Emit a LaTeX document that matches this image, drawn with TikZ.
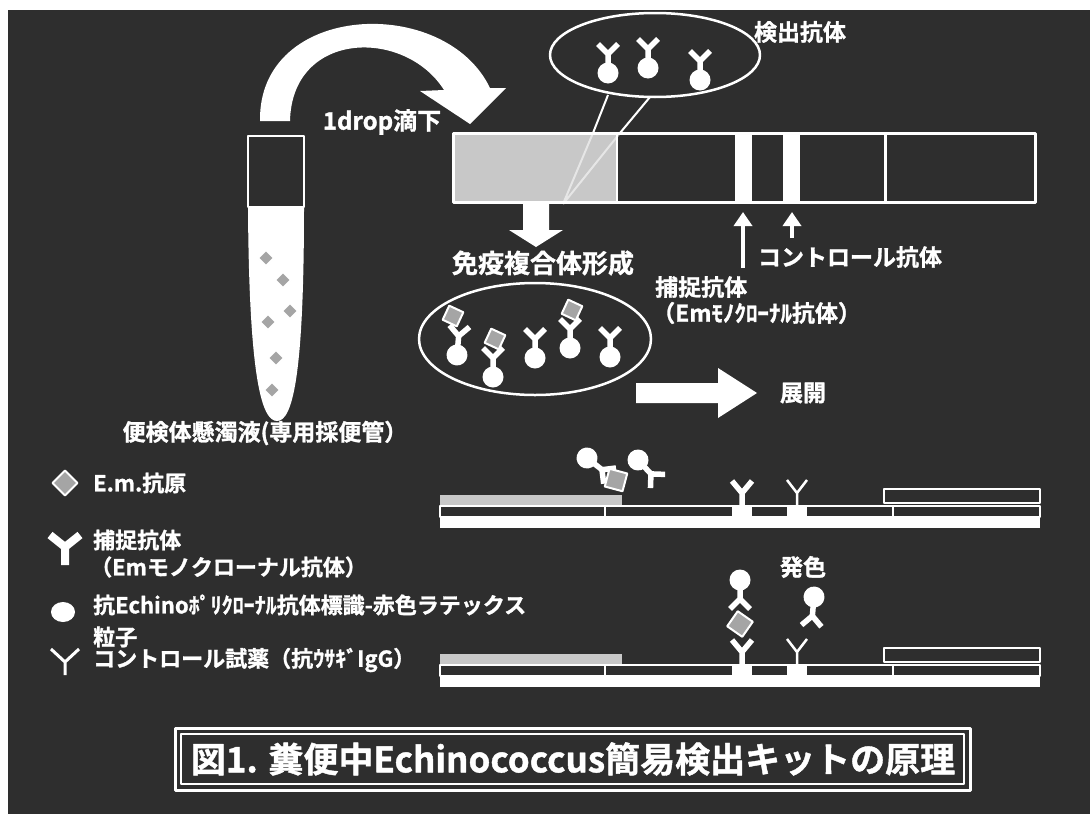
\documentclass[tikz,border=0pt]{standalone}
\usepackage{fontspec}
\setmainfont{Noto Sans CJK JP}[BoldFont={Noto Sans CJK JP Bold}, BoldFeatures={FakeBold=1.2}]
\usetikzlibrary{arrows.meta}

\definecolor{board}{RGB}{46,46,46}
\definecolor{padgray}{RGB}{200,200,200}
\definecolor{agfill}{RGB}{165,165,165}

\tikzset{
  lbl/.style={text=white, inner sep=0pt, font=\bfseries\fontsize{23}{24}\selectfont},
  leg/.style={lbl, anchor=west, font=\bfseries\fontsize{22}{24}\selectfont},
  ab/.style={white, line width=5.5},
  thinab/.style={white, line width=2.5},
  antigen/.style={fill=agfill, draw=white, line width=2},
  layer/.style={fill=board, draw=white, line width=1.5},
  uparrow/.style={white, line width=3.5, -{Triangle[width=18pt,length=14pt]}},
}

% capture antibody (bold Y), junction at #1,#2
\newcommand{\capab}[3]{\draw[ab, shift={(#1,#2)}, rotate=#3] (0,13) -- (0,0) (-10,-12) -- (0,0) -- (10,-12);}
% control reagent (thin Y)
\newcommand{\ctlab}[3]{\draw[thinab, shift={(#1,#2)}, rotate=#3] (0,13) -- (0,0) (-10,-13) -- (0,0) -- (10,-13);}
% latex-labelled antibody, particle centre at #1,#2
\newcommand{\labab}[3]{\begin{scope}[shift={(#1,#2)}, rotate=#3]
  \fill[white] (0,0) circle (10.5);
  \draw[ab] (0,0) -- (0,-19) (-10,-29) -- (0,-19) -- (10,-29);
\end{scope}}
% antigen: centre, half diagonal, rotation
\newcommand{\antigen}[4]{\filldraw[antigen, shift={(#1,#2)}, rotate=#4] (-#3,0) -- (0,-#3) -- (#3,0) -- (0,#3) -- cycle;}

\begin{document}
\begin{tikzpicture}[x=1pt, y=-1pt, line join=round]
\useasboundingbox (0,0) rectangle (1090,814);
\fill[white] (0,0) rectangle (1090,814);
\fill[board] (8,10) rectangle (1090,814);

% curved arrow: tube -> strip
\fill[white]
  (260,121) .. controls (258,2) and (445,-6) .. (490,88) -- (506,88) -- (470,124) -- (420,91) -- (444,90)
  .. controls (405,28) and (292,30) .. (290,121) -- cycle;
\node[lbl, font=\bfseries\fontsize{24}{26}\selectfont] (drop) at (382,122) {1drop滴下};

% sampling tube
\draw[white, line width=2] (248,136) rectangle (304,207);
\fill[white] (248,207) -- (304,207) .. controls (304,380) and (292,421) .. (277,421)
  .. controls (262,421) and (249,380) .. (248,207) -- cycle;
\antigen{266}{258}{8}{0}
\antigen{283}{280}{8}{0}
\antigen{290}{311}{8}{0}
\antigen{268}{322}{8}{0}
\antigen{276}{358}{8}{0}
\antigen{272}{390}{8}{0}
\node[lbl] (tube) at (265,433) {便検体懸濁液(専用採便管）};

% test strip
\fill[padgray] (453,133) rectangle (617,202);
\draw[white, line width=3] (453,133) rectangle (1035,202);
\draw[white, line width=2] (617,133) -- (617,202);
\fill[white] (735,134) rectangle (752,201);
\fill[white] (783,134) rectangle (800,201);
\draw[white, line width=3] (885,133) -- (885,202);

% detection antibody callout
\draw[white, line width=2.5] (655,55) ellipse (105 and 42);
\draw[white, line width=2] (608,95) -- (593,133) (650,97) -- (620,133);
\draw[white, line width=2, opacity=.55] (593,133) -- (563,204) (620,133) -- (563,204);
\labab{608}{73}{0}
\labab{648}{68}{0}
\labab{700}{80}{0}
\node[lbl] (det) at (800,32) {検出抗体};

% arrows to the lines
\coordinate (tline) at (743,212);
\coordinate (cline) at (792,212);
\coordinate (tfoot) at (743,268);
\coordinate (cfoot) at (792,238);
\draw[uparrow] (tfoot) -- (tline);
\draw[uparrow] (cfoot) -- (cline);
\node[lbl] (ctl) at (850,257) {コントロール抗体};
\node[lbl, anchor=west] (cap) at (655,287) {捕捉抗体};
\node[lbl, anchor=west] (capsub) at (652,313) {（Emﾓﾉｸﾛｰﾅﾙ抗体）};

% down arrow and immune complex
\fill[white] (523,202) -- (549,202) -- (549,230) -- (563,230) -- (536,247) -- (509,230) -- (523,230) -- cycle;
\node[lbl, font=\bfseries\fontsize{26}{28}\selectfont] (cplx) at (543,263) {免疫複合体形成};
\draw[white, line width=2.5] (535,339) ellipse (116 and 56);
\labab{457}{355}{-5}
\antigen{453}{316}{11}{20}
\labab{493}{377}{0}
\antigen{495}{339}{11}{20}
\labab{535}{358}{0}
\labab{570}{348}{0}
\antigen{572}{310}{11}{20}
\labab{610}{357}{0}

% flow direction
\fill[white] (636,383) -- (718,383) -- (718,368) -- (757,393) -- (718,418) -- (718,403) -- (636,403) -- cycle;
\node[lbl] (dev) at (803,393) {展開};

% strip section, before
\fill[white] (440,517) rectangle (1040,528);
\draw[layer] (440,506) rectangle (1040,517);
\draw[white, line width=1.5] (605,506) -- (605,517) (893,506) -- (893,517);
\fill[white] (732,506) rectangle (752,517);
\fill[white] (787,506) rectangle (807,517);
\fill[padgray] (440,495) rectangle (622,505);
\draw[layer] (884,489) rectangle (1040,503);
\capab{742}{493}{0}
\ctlab{797}{493}{0}
\labab{587}{458}{-128}
\antigen{616}{480}{13}{30}
\labab{638}{460}{-137}

% strip section, after
\fill[white] (440,676) rectangle (1040,687);
\draw[layer] (440,665) rectangle (1040,676);
\draw[white, line width=1.5] (605,665) -- (605,676) (893,665) -- (893,676);
\fill[white] (732,665) rectangle (752,676);
\fill[white] (787,665) rectangle (807,676);
\fill[padgray] (440,654) rectangle (622,664);
\draw[layer] (884,648) rectangle (1040,662);
\capab{742}{652}{0}
\antigen{740}{624}{13}{10}
\labab{740}{580}{180}
\ctlab{797}{652}{0}
\labab{814}{597}{175}
\node[lbl] (color) at (803,567) {発色};

% legend
\antigen{65}{483}{12.5}{0}
\node[leg] (legag) at (93,483) {E.m.抗原};
\draw[white, line width=8] (65,565) -- (65,547) (50,535) -- (65,547) -- (80,535);
\node[leg] (legcap) at (93,540) {捕捉抗体};
\node[leg] (legcapsub) at (90,567) {（Emモノクローナル抗体）};
\fill[white] (63,612) ellipse (12 and 10);
\node[leg] (leglat) at (93,605) {抗Echinoﾎﾟﾘｸﾛｰﾅﾙ抗体標識-赤色ラテックス};
\node[leg] (leglatb) at (93,637) {粒子};
\draw[white, line width=3] (65,675) -- (65,662) (51,649) -- (65,662) -- (79,649);
\node[leg] (legctl) at (93,660) {コントロール試薬（抗ｳｻｷﾞIgG）};

% title
\draw[white, line width=3] (175,728) rectangle (970,790);
\draw[white, line width=1.2] (181,734) rectangle (964,784);
\node[lbl, font=\bfseries\fontsize{35}{36}\selectfont] (title) at (573,759) {図1. 糞便中Echinococcus簡易検出キットの原理};
\end{tikzpicture}
\end{document}
